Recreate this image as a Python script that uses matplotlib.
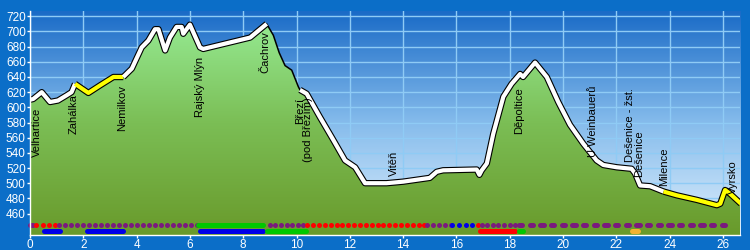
import numpy as np
import matplotlib
matplotlib.use('Agg')
import matplotlib.pyplot as plt
from matplotlib.colors import LinearSegmentedColormap
from matplotlib.patches import Polygon

plt.rcParams['font.family'] = ['Liberation Sans', 'DejaVu Sans']

# profil trasy: vzdalenost (km) a nadmorska vyska (m)
km = [0, 0.12, 0.44, 0.75, 1.05, 1.38, 1.56, 1.69, 2.19, 2.63, 3.13, 3.5, 3.82,
      4.19, 4.44, 4.69, 4.82, 5.07, 5.25, 5.5, 5.69, 5.75, 6.0, 6.38, 6.5, 8.26,
      8.88, 9.13, 9.35, 9.57, 9.82, 10.07, 10.13, 10.38, 10.88, 11.38, 11.82,
      12.2, 12.57, 13.38, 14.0, 15.0, 15.26, 15.5, 16.76, 16.86, 16.95, 17.14,
      17.38, 17.76, 18.07, 18.39, 18.5, 18.95, 19.39, 19.82, 20.26, 20.76,
      21.26, 21.51, 22.01, 22.57, 22.7, 22.89, 23.27, 23.77, 24.27, 25.02,
      25.77, 25.9, 26.08, 26.27, 26.67]
elev = [610, 611, 620, 607, 609, 616, 620, 631, 619, 629, 640, 640, 651,
        679, 688, 703, 703, 675, 692, 706, 706, 697, 709, 679, 677, 692,
        710, 695, 672, 655, 649, 627, 623, 618, 587, 557, 530,
        521, 500, 500, 502, 507, 515, 517, 518, 511, 517, 526,
        565, 614, 631, 644, 640, 659, 640, 607, 577, 552,
        530, 524, 521, 519, 513, 497, 496, 489, 484, 478,
        471, 473, 491, 486, 473]

# useky cary: od km, do km, barva (None = bez cary)
line_from = [0, 1.69, 3.5, 8.88, 10.13, 23.77]
line_to = [1.69, 3.5, 8.88, 10.13, 23.77, 26.67]
line_color = ['white', '#FFFF00', 'white', None, 'white', '#FFFF00']

# popisky mist
place_names = ['Velhartice', 'Zahálka', 'Nemilkov', 'Rajský Mlýn', 'Čachrov',
               'Březí\n(pod Březím)', 'Vitěň', 'Děpoltice', 'U Weinbauerů',
               'Dešenice - žst.', 'Dešenice', 'Milence', 'Vyrsko']
place_km = [0.26, 1.65, 3.45, 6.38, 8.82, 10.28, 13.66, 18.35, 21.13,
            22.53, 22.85, 23.79, 26.38]
place_top = [600, 618, 629, 666, 701, 613, 543, 626, 629, 625, 570, 547, 530]

# horni rada tecek (povrch)
row1_from = [0.0, 0.23, 1.1, 6.3, 9.0, 10.4, 14.9, 15.85, 16.8, 16.95, 18.35]
row1_to = [0.12, 0.95, 6.25, 8.75, 10.25, 14.8, 15.8, 16.6, 16.8, 18.2, 26.0]
row1_color = ['purple', 'red', 'purple', 'green', 'purple', 'red', 'purple',
              'blue', 'red', 'purple', 'purple']
row1_kind = ['pill', 'dot', 'dot', 'solid', 'dot', 'dot', 'dot', 'dot', 'dot',
             'dot', 'pill']

# spodni rada pruhu
row2_from = [0.45, 2.06, 6.3, 8.82, 16.82, 18.28, 22.5]
row2_to = [1.2, 3.56, 8.82, 10.45, 18.28, 18.58, 22.9]
row2_color = ['blue', 'blue', 'blue', 'green', 'red', 'green', 'orange']

xticks = list(range(0, 27, 2))
yticks = list(range(460, 721, 20))

colors = {'purple': '#7A1A7E', 'red': '#FF0000', 'green': '#00C800',
          'blue': '#0000E8', 'orange': '#F2B233'}

y_lo, y_hi = 431.7, 727.0
x_hi = 26.64

fig = plt.figure(figsize=(7.5, 2.5), dpi=100, facecolor='#0B6EC8')
ax = fig.add_axes([0.04, 0.06, 0.9467, 0.896])
ax.set_xlim(0, x_hi)
ax.set_ylim(y_lo, y_hi)

# nebe
sky = LinearSegmentedColormap.from_list('sky', ['#E0F0FD', '#86BCEC', '#1A6BC7'])
grad = np.linspace(0, 1, 256).reshape(-1, 1)
ax.imshow(grad, cmap=sky, origin='lower', extent=(0, x_hi, y_lo, y_hi),
          aspect='auto', zorder=0)

for x in xticks:
    ax.axvline(x, color='#8FCBF5', lw=1, zorder=1)
for y in yticks:
    ax.axhline(y, color='#8FCBF5', lw=1, zorder=1)

# zelena plocha pod profilem
verts = list(zip(km, elev)) + [(km[-1], y_lo), (km[0], y_lo)]
poly = Polygon(verts, closed=True, facecolor='none', edgecolor='none',
               transform=ax.transData)
ax.add_patch(poly)
greens = LinearSegmentedColormap.from_list('gr', ['#699A2B', '#7BBE55', '#98EE98'])
im = ax.imshow(grad, cmap=greens, origin='lower', extent=(0, x_hi, y_lo, y_hi),
               aspect='auto', zorder=2)
im.set_clip_path(poly)

# profil
km_a = np.array(km)
el_a = np.array(elev)
for a, b, c in zip(line_from, line_to, line_color):
    m = (km_a >= a - 1e-9) & (km_a <= b + 1e-9)
    if c is None:
        ax.plot(km_a[m], el_a[m], color='black', lw=1.1, zorder=3)
        continue
    ax.plot(km_a[m], el_a[m], color='black', lw=4.6, zorder=3,
            solid_capstyle='butt', solid_joinstyle='round')
for a, b, c in zip(line_from, line_to, line_color):
    if c is None:
        continue
    m = (km_a >= a - 1e-9) & (km_a <= b + 1e-9)
    ax.plot(km_a[m], el_a[m], color=c, lw=3.0, zorder=4,
            solid_capstyle='butt', solid_joinstyle='round')

# popisky
for name, x, top in zip(place_names, place_km, place_top):
    ax.text(x, top, name, rotation=90, ha='center', va='top', fontsize=8,
            color='black', zorder=5, multialignment='right', linespacing=0.8)

# rady tecek a pruhu
tr = ax.get_xaxis_transform()
for a, b, c, k in zip(row1_from, row1_to, row1_color, row1_kind):
    col = colors[c]
    if k == 'solid':
        ax.plot([a, b], [0.045, 0.045], transform=tr, color=col, lw=3.6,
                solid_capstyle='round', zorder=6, clip_on=False)
    elif k == 'pill':
        for s in np.arange(a, b + 1e-6, 0.4):
            ax.plot([s, s + 0.12], [0.045, 0.045], transform=tr, color=col,
                    lw=3.6, solid_capstyle='round', zorder=6, clip_on=False)
    else:
        n = max(1, int(round((b - a) / 0.22)) + 1)
        xs = np.linspace(a, b, n)
        ax.scatter(xs, np.full(n, 0.045), transform=tr, s=13, color=col,
                   linewidths=0, zorder=6, clip_on=False)
for a, b, c in zip(row2_from, row2_to, row2_color):
    ax.plot([a + 0.08, b - 0.08], [0.016, 0.016], transform=tr, color=colors[c],
            lw=3.6, solid_capstyle='round', zorder=6, clip_on=False)

# osy
ax.set_xticks(xticks)
ax.set_yticks(yticks)
for side in ['top', 'right']:
    ax.spines[side].set_visible(False)
for side in ['left', 'bottom']:
    ax.spines[side].set_color('white')
    ax.spines[side].set_linewidth(1)
    ax.spines[side].set_zorder(7)
ax.tick_params(colors='white', labelsize=8.5, length=2.5, width=1)
ax.tick_params(axis='y', pad=0.5)
ax.tick_params(axis='x', pad=0.5)

fig.savefig('out.png', dpi=100, facecolor=fig.get_facecolor())
